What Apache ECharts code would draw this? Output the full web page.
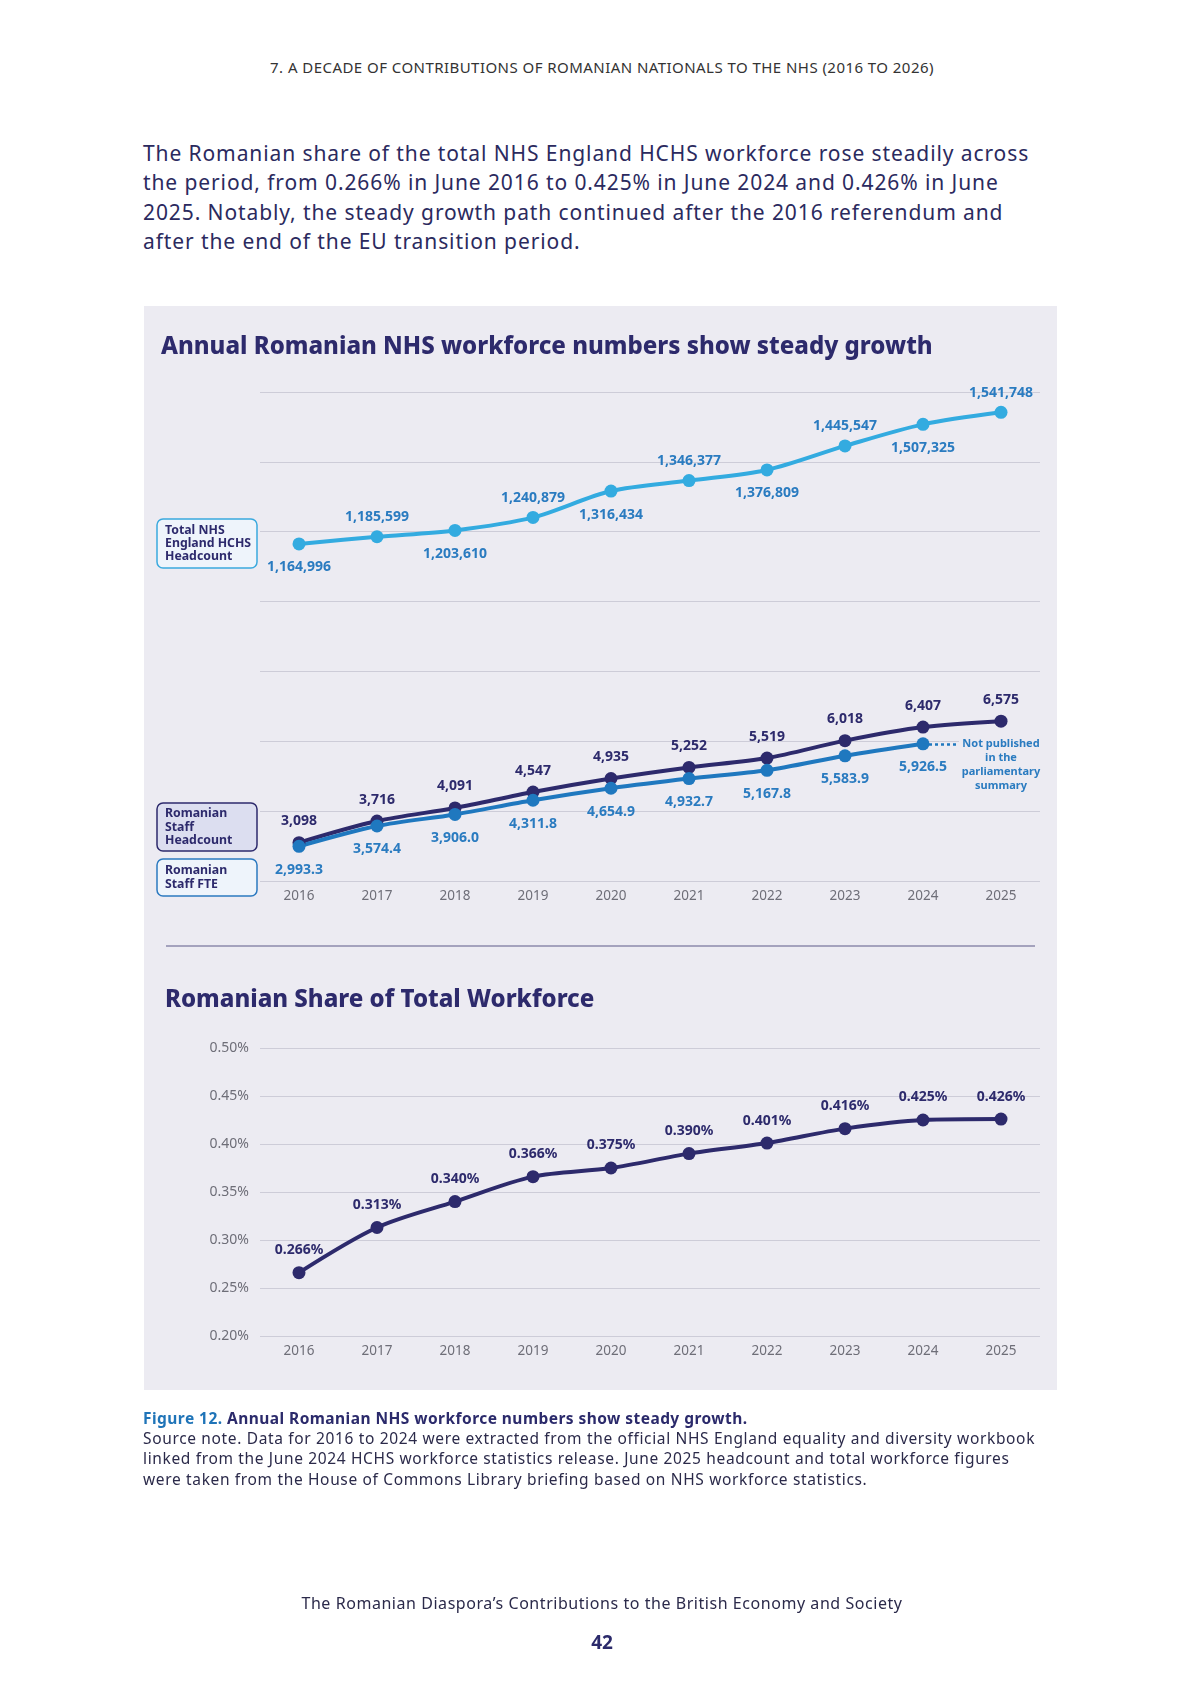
<!DOCTYPE html>
<html>
<head>
<meta charset="utf-8">
<script src="https://cdn.jsdelivr.net/npm/echarts@6/dist/echarts.min.js"></script>
<style>
  html,body{margin:0;padding:0;background:#fff;}
  body{width:1200px;height:1697px;position:relative;overflow:hidden;font-family:'Noto Sans',sans-serif;}
  #hdr{position:absolute;top:57px;left:0;width:1204px;text-align:center;font-size:15px;letter-spacing:0.45px;color:#333;}
  #para{position:absolute;left:143px;top:139px;font-size:21px;line-height:29.3px;letter-spacing:0.9px;color:#2b2a5e;}
  #panel{position:absolute;left:144px;top:306px;width:913px;height:1084px;background:#ecebf2;}
  #chart{position:absolute;left:0;top:0;width:1200px;height:1697px;}
  #cap{position:absolute;left:143px;top:1408px;font-size:15.5px;line-height:20.2px;letter-spacing:0.65px;color:#2b2a4a;}
  #cap b.f{color:#1f74b8;}
  #cap b.t{color:#2b2a6b;}
  #cap .l1{letter-spacing:0.45px;}
  #foot{position:absolute;top:1592px;left:0;width:1204px;text-align:center;font-size:16px;letter-spacing:0.55px;color:#2b2a4a;}
  #pg{position:absolute;top:1629px;left:0;width:1204px;text-align:center;font-size:19px;font-weight:bold;color:#2b2a6b;}
</style>
</head>
<body>
<div id="hdr">7. A DECADE OF CONTRIBUTIONS OF ROMANIAN NATIONALS TO THE NHS (2016 TO 2026)</div>
<div id="para">The Romanian share of the total NHS England HCHS workforce rose steadily across<br>the period, from 0.266% in June 2016 to 0.425% in June 2024 and 0.426% in June<br>2025. Notably, the steady growth path continued after the 2016 referendum and<br>after the end of the EU transition period.</div>
<div id="panel"></div>
<div id="chart"></div>
<div id="cap"><span class="l1"><b class="f">Figure 12.</b> <b class="t">Annual Romanian NHS workforce numbers show steady growth.</b></span><br>Source note. Data for 2016 to 2024 were extracted from the official NHS England equality and diversity workbook<br>linked from the June 2024 HCHS workforce statistics release. June 2025 headcount and total workforce figures<br>were taken from the House of Commons Library briefing based on NHS workforce statistics.</div>
<div id="foot">The Romanian Diaspora’s Contributions to the British Economy and Society</div>
<div id="pg">42</div>
<script>
// ---- data ----
const years = ['2016','2017','2018','2019','2020','2021','2022','2023','2024','2025'];
const totalHeadcount = [1164996, 1185599, 1203610, 1240879, 1316434, 1346377, 1376809, 1445547, 1507325, 1541748];
const romanianHeadcount = [3098, 3716, 4091, 4547, 4935, 5252, 5519, 6018, 6407, 6575];
const romanianFTE = [2993.3, 3574.4, 3906.0, 4311.8, 4654.9, 4932.7, 5167.8, 5583.9, 5926.5, null];
const sharePct = [0.266, 0.313, 0.340, 0.366, 0.375, 0.390, 0.401, 0.416, 0.425, 0.426];
const shareTicks = ['0.20%','0.25%','0.30%','0.35%','0.40%','0.45%','0.50%'];
const notPublishedNote = 'Not published\nin the\nparliamentary\nsummary';

// ---- styles ----
const FONT = 'Noto Sans';
const NAVY = '#2d2a6c';
const LIGHT = '#33abe0';
const BLUE = '#1f78bf';
const LBLUE = '#2a7bc0';
const GRID = '#cdccd8';
const AXIS = '#6e6e78';
const PANEL = '#ecebf2';

const chart = echarts.init(document.getElementById('chart'), null, {renderer:'canvas'});
const fmtInt = v => Number(v).toLocaleString('en-US');
const fmt1 = v => Number(v).toLocaleString('en-US',{minimumFractionDigits:1, maximumFractionDigits:1});

function box(x, y, w, h, stroke, fill, text){
  return {
    type:'group', children:[
      {type:'rect', shape:{x:x, y:y, width:w, height:h, r:6}, style:{fill:fill, stroke:stroke, lineWidth:1.5}},
      {type:'text', style:{x:x+8, y:y+h/2, text:text, fill:NAVY, font:'bold 12.3px "'+FONT+'"', verticalAlign:'middle', lineHeight:13.3}}
    ]
  };
}

const lbl = (color) => ({show:true, color:color, fontFamily:FONT, fontSize:14, fontWeight:'bold', distance:6});

chart.setOption({
  animation:false,
  textStyle:{fontFamily:FONT},
  title:[
    {text:'Annual Romanian NHS workforce numbers show steady growth', left:161, top:335, padding:0, textStyle:{fontSize:24, fontWeight:800, color:NAVY, fontFamily:FONT}},
    {text:'Romanian Share of Total Workforce', left:165, top:988, padding:0, textStyle:{fontSize:24, fontWeight:800, color:NAVY, fontFamily:FONT}}
  ],
  graphic:[
    {type:'line', shape:{x1:166, y1:946, x2:1035, y2:946}, style:{stroke:'#5d5b88', lineWidth:1.2}},
    box(157, 519, 100, 49, '#3aa9de', '#eef4fb', 'Total NHS\nEngland HCHS\nHeadcount'),
    box(157, 803, 100, 48, NAVY, '#dcdef0', 'Romanian\nStaff\nHeadcount'),
    box(157, 859, 100, 37, '#2b79c0', '#eef4fb', 'Romanian\nStaff FTE')
  ],
  grid:[
    {left:260, top:392, width:780, height:489},
    {left:260, top:1048, width:780, height:288}
  ],
  xAxis:[
    {type:'category', gridIndex:0, data:years, axisLine:{show:false}, axisTick:{show:false},
     axisLabel:{color:AXIS, fontSize:13.5, margin:8, fontFamily:FONT}},
    {type:'category', gridIndex:1, data:years, axisLine:{show:false}, axisTick:{show:false},
     axisLabel:{color:AXIS, fontSize:13.5, margin:8, fontFamily:FONT}}
  ],
  yAxis:[
    {type:'value', gridIndex:0, min:200000, max:1600000, interval:200000,
     axisLabel:{show:false}, axisLine:{show:false}, axisTick:{show:false},
     splitLine:{lineStyle:{color:GRID, width:1}}},
    {type:'value', gridIndex:0, min:2000, max:16000, interval:2000,
     axisLabel:{show:false}, axisLine:{show:false}, axisTick:{show:false}, splitLine:{show:false}},
    {type:'value', gridIndex:1, min:0.20, max:0.50, interval:0.05,
     axisLine:{show:false}, axisTick:{show:false},
     axisLabel:{color:AXIS, fontSize:14, margin:11, fontFamily:FONT,
       formatter:(v)=>{const i=Math.round((v-0.20)/0.05); return shareTicks[i];}},
     splitLine:{lineStyle:{color:GRID, width:1}}}
  ],
  series:[
    {name:'Total NHS England HCHS Headcount', type:'line', xAxisIndex:0, yAxisIndex:0,
     data: totalHeadcount.map((v,i)=>({value:v, label: i%2===0 ? {position:'bottom', distance:10} : {position:'top', distance:6}})),
     smooth:0.3, symbol:'circle', symbolSize:13,
     lineStyle:{color:LIGHT, width:4}, itemStyle:{color:LIGHT},
     label:Object.assign(lbl(LBLUE), {formatter:p=>fmtInt(p.value)})},
    {name:'Romanian Staff Headcount', type:'line', xAxisIndex:0, yAxisIndex:1,
     data: romanianHeadcount, smooth:0.3, symbol:'circle', symbolSize:13,
     lineStyle:{color:NAVY, width:4}, itemStyle:{color:NAVY},
     label:Object.assign(lbl(NAVY), {position:'top', distance:8, formatter:p=>fmtInt(p.value)})},
    {name:'Romanian Staff FTE', type:'line', xAxisIndex:0, yAxisIndex:1,
     data: romanianFTE, smooth:0.3, symbol:'circle', symbolSize:13,
     lineStyle:{color:BLUE, width:4}, itemStyle:{color:BLUE},
     label:Object.assign(lbl(LBLUE), {position:'bottom', distance:10, formatter:p=>fmt1(p.value)}),
     markLine:{silent:true, symbol:'none', label:{show:false},
       lineStyle:{type:[3,3], color:BLUE, width:2.5},
       data:[[{coord:[years[8], romanianFTE[8]]},{coord:[years[9], romanianFTE[8]]}]]},
     markPoint:{silent:true, symbol:'rect', symbolSize:[84,64], symbolOffset:[0,21],
       itemStyle:{color:PANEL},
       label:{show:true, position:'inside', formatter:notPublishedNote, color:LBLUE,
         fontFamily:FONT, fontSize:11, fontWeight:'bold', lineHeight:14},
       data:[{coord:[years[9], romanianFTE[8]]}]}},
    {name:'Romanian share', type:'line', xAxisIndex:1, yAxisIndex:2,
     data: sharePct, smooth:0.3, symbol:'circle', symbolSize:13,
     lineStyle:{color:NAVY, width:4}, itemStyle:{color:NAVY},
     label:Object.assign(lbl(NAVY), {position:'top', distance:9, formatter:p=>p.value.toFixed(3)+'%'})}
  ]
});
</script>
</body>
</html>
